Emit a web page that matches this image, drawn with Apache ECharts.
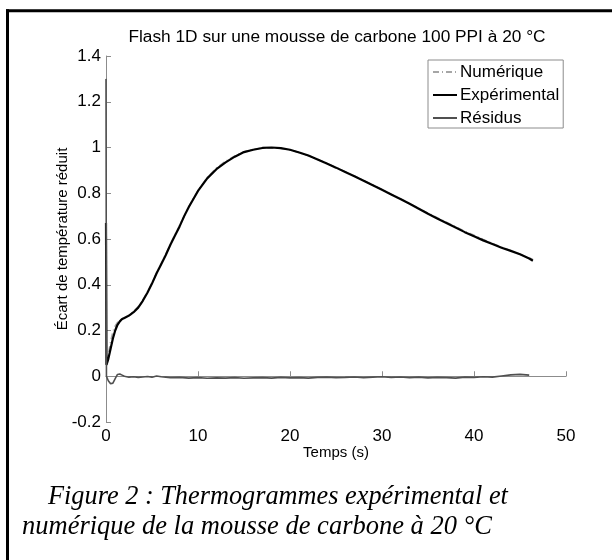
<!DOCTYPE html>
<html>
<head>
<meta charset="utf-8">
<script src="https://cdn.jsdelivr.net/npm/echarts@6/dist/echarts.min.js"></script>
<style>
html,body{margin:0;padding:0;background:#fff;}
#c{width:612px;height:560px;}
</style>
</head>
<body>
<div id="c"></div>
<script>
// ---- data ----
const titleText = "Flash 1D sur une mousse de carbone 100 PPI à 20 °C";
const xName = "Temps (s)";
const yName = "Écart de température réduit";
const seriesNames = ["Numérique", "Expérimental", "Résidus"];
const captionLines = ["Figure 2 : Thermogrammes expérimental et", "numérique de la mousse de carbone à 20 °C"];

const expT = [0, 0.05, 0.25, 0.5, 0.75, 1.0, 1.25, 1.5, 1.75, 2.0, 2.5, 3.0, 3.5, 4.0, 4.5, 5.0, 5.5, 6, 6.5, 7, 7.5, 8, 8.5, 9, 9.5, 10, 11, 12, 13, 14, 15, 16, 17, 18, 19, 20, 21, 22, 23, 24, 25, 26, 27, 28, 29, 30, 31, 32, 33, 34, 35, 36, 37, 38, 39, 40, 41, 42, 43, 44, 45, 46, 46.4];
const expV = [0.67, 0.05, 0.075, 0.12, 0.165, 0.2, 0.225, 0.24, 0.25, 0.255, 0.265, 0.28, 0.30, 0.33, 0.365, 0.405, 0.45, 0.49, 0.53, 0.575, 0.615, 0.655, 0.70, 0.74, 0.775, 0.81, 0.865, 0.905, 0.935, 0.96, 0.98, 0.99, 0.998, 1.0, 0.997, 0.99, 0.978, 0.965, 0.948, 0.93, 0.912, 0.893, 0.874, 0.855, 0.835, 0.815, 0.795, 0.775, 0.754, 0.732, 0.71, 0.69, 0.67, 0.65, 0.63, 0.612, 0.594, 0.578, 0.562, 0.548, 0.533, 0.515, 0.505];

const numT = [0.05, 0.25, 0.5, 0.75, 1.0, 1.25, 1.5, 2.0, 2.5, 3.0, 3.5, 4.0, 4.5, 5.0, 5.5, 6, 6.5, 7, 7.5, 8, 8.5, 9, 9.5, 10, 11, 12, 13, 14, 15, 16, 17, 18, 19, 20, 21, 22, 23, 24, 25, 26, 27, 28, 29, 30, 31, 32, 33, 34, 35, 36, 37, 38, 39, 40, 41, 42, 43, 44, 45, 46, 46.4];
const numV = [0.05, 0.095, 0.15, 0.195, 0.22, 0.235, 0.245, 0.255, 0.268, 0.283, 0.304, 0.333, 0.367, 0.407, 0.451, 0.492, 0.533, 0.577, 0.618, 0.659, 0.70, 0.741, 0.777, 0.812, 0.868, 0.91, 0.94, 0.963, 0.981, 0.992, 0.998, 0.999, 0.996, 0.989, 0.978, 0.964, 0.948, 0.931, 0.913, 0.894, 0.875, 0.856, 0.836, 0.816, 0.796, 0.776, 0.755, 0.734, 0.713, 0.693, 0.673, 0.653, 0.634, 0.616, 0.598, 0.581, 0.565, 0.549, 0.533, 0.517, 0.51];

const resT = [0, 0.05, 0.25, 0.5, 0.75, 1.0, 1.25, 1.5, 1.75, 2.0, 2.5, 3, 3.5, 4, 4.5, 5, 5.5, 6, 6.5, 7, 8, 9, 10, 11, 12, 13, 14, 15, 16, 17, 18, 19, 20, 21, 22, 23, 24, 25, 26, 27, 28, 29, 30, 31, 32, 33, 34, 35, 36, 37, 38, 39, 40, 41, 42, 43, 44, 45, 46];
const resV = [1.3, 0.0, -0.02, -0.033, -0.03, -0.01, 0.008, 0.01, 0.005, 0.0, -0.004, -0.002, -0.005, -0.003, -0.001, -0.004, 0.001, -0.002, -0.004, -0.006, -0.005, -0.008, -0.006, -0.009, -0.007, -0.008, -0.006, -0.009, -0.007, -0.006, -0.008, -0.005, -0.007, -0.006, -0.008, -0.005, -0.004, -0.006, -0.005, -0.003, -0.006, -0.004, -0.002, -0.005, -0.003, -0.006, -0.004, -0.007, -0.005, -0.006, -0.008, -0.004, -0.005, -0.002, -0.004, 0.001, 0.006, 0.008, 0.005];

const xTicks = {min: 0, max: 50, interval: 10};
const yTicks = {min: -0.2, max: 1.4, interval: 0.2};

function pairs(t, v) { return t.map((x, i) => [x, v[i]]); }

const FONT = "Liberation Sans, Arial, sans-serif";
const SERIF = "Liberation Serif, Times New Roman, serif";
const chart = echarts.init(document.getElementById('c'), null, {renderer: 'canvas'});
const axisGray = '#8c8c8c';

chart.setOption({
  animation: false,
  backgroundColor: '#fff',
  grid: {left: 106, right: 46, top: 56, bottom: 138},
  xAxis: {
    type: 'value', min: xTicks.min, max: xTicks.max, interval: xTicks.interval,
    name: xName, nameLocation: 'middle', nameGap: 23, nameMoveOverlap: false,
    nameTextStyle: {fontFamily: FONT, fontSize: 15, color: '#000'},
    axisLine: {lineStyle: {color: axisGray, width: 1}},
    axisTick: {inside: true, length: 5, lineStyle: {color: axisGray}},
    axisLabel: {fontFamily: FONT, fontSize: 17, color: '#000', margin: 6},
    splitLine: {show: false}
  },
  yAxis: {
    type: 'value', min: yTicks.min, max: yTicks.max, interval: yTicks.interval,
    name: yName, nameLocation: 'middle', nameGap: 36, nameRotate: 90, nameMoveOverlap: false,
    nameTextStyle: {fontFamily: FONT, fontSize: 15, color: '#000'},
    axisLine: {show: true, lineStyle: {color: axisGray, width: 1}},
    axisTick: {show: true, inside: true, length: 5, lineStyle: {color: axisGray}},
    axisLabel: {fontFamily: FONT, fontSize: 17, color: '#000', margin: 5},
    splitLine: {show: false}
  },
  legend: {
    orient: 'vertical', left: 428, top: 60,
    padding: [2, 4, 0, 4], itemGap: 3, itemWidth: 24, itemHeight: 14,
    borderColor: '#8c8c8c', borderWidth: 1, backgroundColor: '#fff',
    itemStyle: {opacity: 0},
    textStyle: {fontFamily: FONT, fontSize: 17, lineHeight: 20, color: '#000', padding: [0, 0, 0, -2]},
    data: seriesNames
  },
  graphic: [
    {type: 'text', x: 337, y: 37, style: {text: titleText, font: '17.3px ' + FONT, fill: '#000', textAlign: 'center', textVerticalAlign: 'middle'}},
    {type: 'text', x: 48, y: 497, style: {text: captionLines[0], font: 'italic 26.3px ' + SERIF, fill: '#000', textAlign: 'left', textVerticalAlign: 'middle'}},
    {type: 'text', x: 22, y: 527, style: {text: captionLines[1], font: 'italic 26.5px ' + SERIF, fill: '#000', textAlign: 'left', textVerticalAlign: 'middle'}},
    {type: 'line', shape: {x1: 6, y1: 10.8, x2: 612, y2: 10.8}, style: {stroke: '#000', lineWidth: 3}},
    {type: 'line', shape: {x1: 7.5, y1: 9.3, x2: 7.5, y2: 560}, style: {stroke: '#000', lineWidth: 3}}
  ],
  series: [
    {name: seriesNames[0], type: 'line', data: pairs(numT, numV), symbol: 'none', z: 2,
     lineStyle: {color: '#a6a6a6', width: 1.6, type: [6, 3, 1, 3]}, itemStyle: {color: '#a6a6a6'}},
    {name: seriesNames[1], type: 'line', data: pairs(expT, expV), symbol: 'none', z: 3,
     lineStyle: {color: '#000', width: 2.2}, itemStyle: {color: '#000'}},
    {name: seriesNames[2], type: 'line', data: pairs(resT, resV), symbol: 'none', z: 4,
     lineStyle: {color: '#505050', width: 1.6}, itemStyle: {color: '#505050'}}
  ]
});
</script>
</body>
</html>
